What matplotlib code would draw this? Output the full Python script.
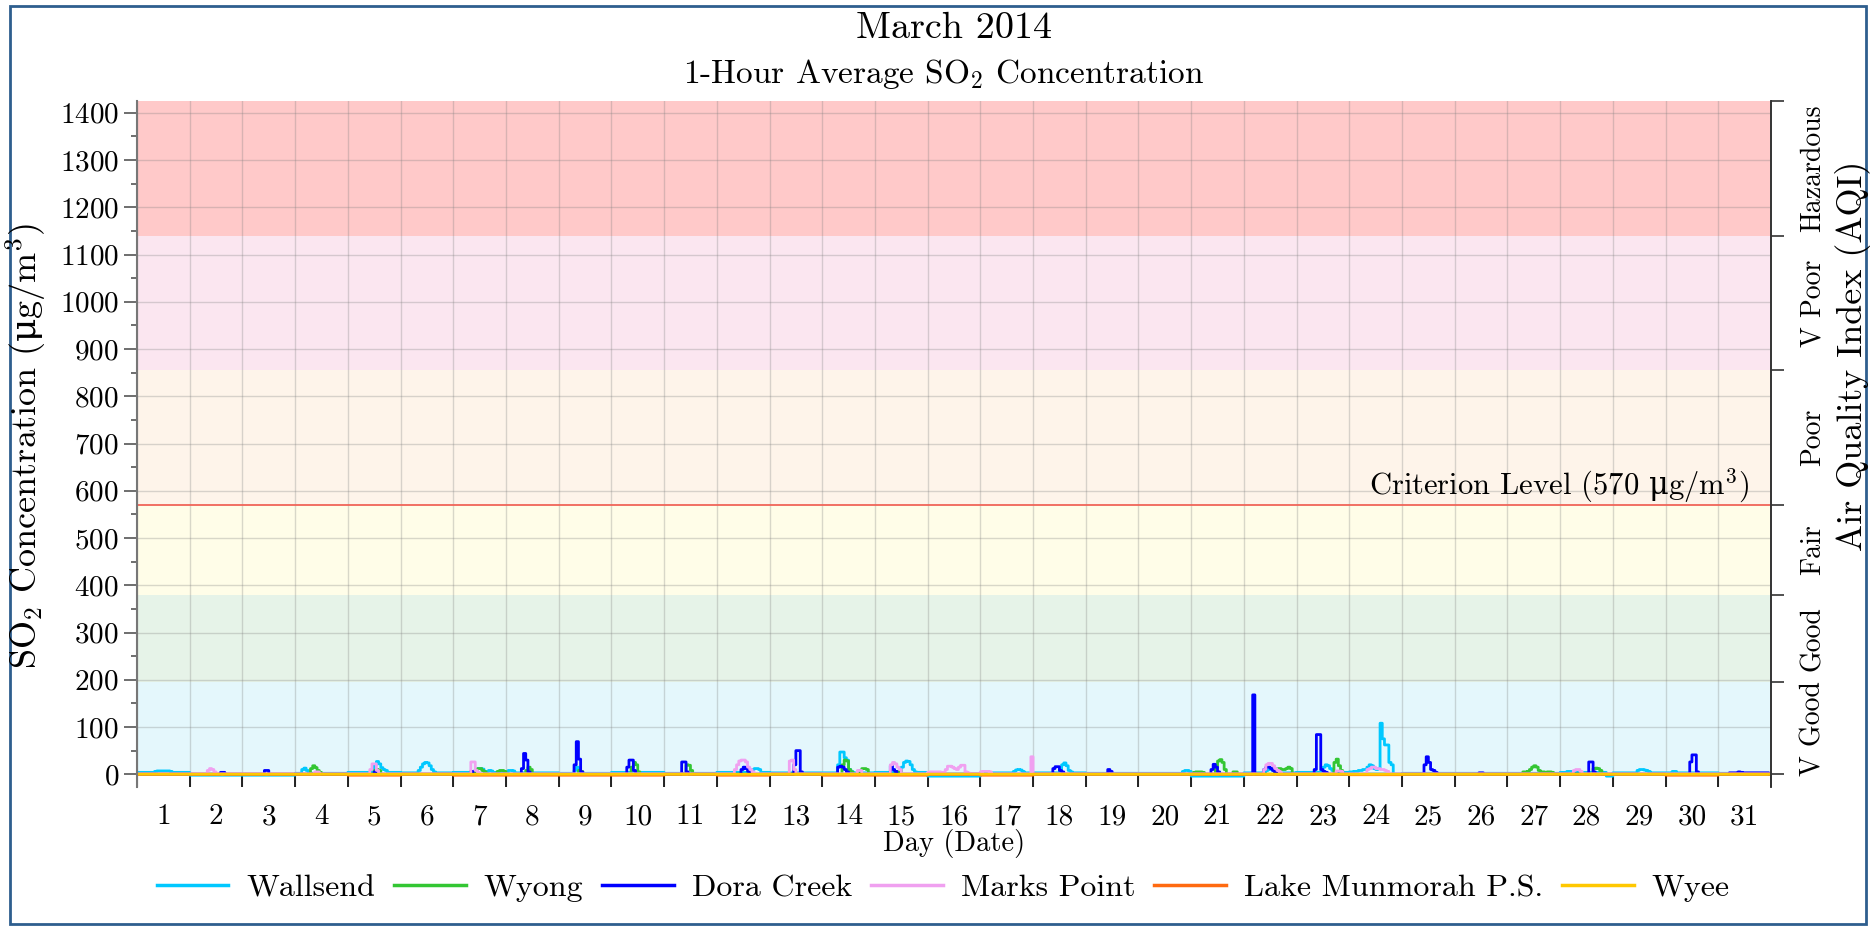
import numpy as np
import matplotlib
matplotlib.use("Agg")
from matplotlib import pyplot as plt
from matplotlib.patches import Rectangle
import matplotlib.transforms as mtransforms

plt.rcParams['font.family'] = ['cmr10', 'DejaVu Serif']
plt.rcParams['mathtext.fontset'] = 'custom'
plt.rcParams['mathtext.rm'] = 'cmr10'
plt.rcParams['mathtext.it'] = 'cmmi10'
plt.rcParams['mathtext.bf'] = 'cmb10'
plt.rcParams['mathtext.sf'] = 'DejaVu Serif'
plt.rcParams['axes.formatter.use_mathtext'] = True

MU = r'$\mathsf{\mu}$'

## data: per-day baseline (1..31) and spikes as (day, start hour, hourly values) ##
n_days = 31
day_labels = [str(d) for d in range(1, n_days + 1)]

wallsend_base = [4, -2, -2, 2, 4, 3, 4, 3, 2, 4, 2, 4, 3, 3, 4, -4, 3, 3, 2, 2, -4, 3, 4, 6, 2, 2, 2, 4, 3, 3, 2]
wallsend_spikes = [
    (1, 8, [6, 7, 7, 7, 7, 7, 7, 6]),
    (4, 3, [10, 13, 8]),
    (5, 11, [10, 20, 27, 22, 14, 10, 8]),
    (6, 8, [8, 15, 22, 25, 24, 18, 10, 5]),
    (7, 10, [10, 12, 12, 11, 6, 5, 8, 7, 4]),
    (8, 1, [8, 8, 7]),
    (9, 7, [8, 15, 10]),
    (12, 15, [8, 10, 12, 12, 10]),
    (14, 7, [20, 47, 47, 35, 30, 10, 6]),
    (15, 12, [15, 25, 28, 27, 20, 10, 5]),
    (17, 15, [6, 9, 10, 9, 6]),
    (18, 12, [10, 20, 24, 18, 8, 5]),
    (20, 20, [6, 8, 8, 6]),
    (22, 9, [5, 8, 10, 10, 8, 6]),
    (23, 11, [8, 15, 20, 18, 12, 8]),
    (24, 0, [5, 5, 6, 6, 8, 8, 10, 10, 15, 20, 18, 12, 10, 12, 108, 75, 62, 62, 25, 20, 0, 0, 0, 0]),
    (28, 3, [6, 6, 6]),
    (28, 21, [-4, -4, -4]),
    (29, 11, [8, 10, 10, 9, 8, 6]),
    (30, 3, [6, 6]),
]

wyong_base = [0] * n_days
wyong_spikes = [
    (4, 7, [12, 18, 14, 8, 4]),
    (5, 12, [8, 10, 8]),
    (7, 10, [10, 12, 12, 8, 5]),
    (7, 20, [6, 8, 8, 6]),
    (8, 9, [8, 15, 10]),
    (9, 9, [8, 6]),
    (10, 9, [15, 25, 20, 5]),
    (11, 10, [20, 19, 8]),
    (14, 9, [20, 30, 28, 10, 5]),
    (14, 17, [8, 12, 12, 10]),
    (15, 10, [6, 8]),
    (21, 1, [4, 5, 5, 5, 4]),
    (21, 11, [15, 28, 31, 25, 10]),
    (21, 19, [5, 5]),
    (22, 14, [10, 12, 12, 10, 10, 12, 15, 12]),
    (23, 17, [25, 32, 18, 8]),
    (27, 7, [5, 5, 6, 10, 15, 18, 15, 8, 5, 5, 3, 5, 5, 4]),
    (28, 15, [12, 13, 12, 8]),
]

dora_base = [0] * n_days
dora_spikes = [
    (2, 14, [4, 4]),
    (3, 10, [8, 8]),
    (5, 12, [5]),
    (7, 8, [6]),
    (8, 7, [12, 44, 30, 5]),
    (9, 7, [20, 69, 32, 5]),
    (10, 7, [15, 30, 30, 8]),
    (11, 8, [26, 26, 5]),
    (12, 11, [10, 15, 12, 6]),
    (13, 11, [20, 50, 50, 5]),
    (14, 7, [15, 17, 15, 10, 5]),
    (15, 7, [18, 10, 6]),
    (18, 9, [12, 16, 16, 8, 5]),
    (19, 10, [10, 6]),
    (21, 9, [10, 21, 15, 5]),
    (22, 4, [168]),
    (22, 9, [10, 15, 15, 12, 8, 5]),
    (23, 8, [10, 84, 84, 10, 6, 4]),
    (25, 10, [20, 37, 25, 10, 8, 4]),
    (26, 11, [3, 3]),
    (28, 13, [26, 26, 5]),
    (30, 11, [26, 41, 41, 5]),
    (31, 5, [3, 3, 3, 3, 5, 4, 3, 3, 3, 3, 3, 3, 3, 3, 3, 3, 3, 3]),
]

marks_base = [1] * n_days
marks_spikes = [
    (2, 8, [8, 12, 10, 5]),
    (4, 9, [5, 5]),
    (5, 10, [10, 22, 22, 8]),
    (7, 8, [26, 26, 8, 4]),
    (12, 8, [10, 20, 28, 30, 30, 26, 15, 10, 5]),
    (13, 9, [28, 30, 10]),
    (14, 16, [8, 8]),
    (15, 7, [20, 25, 22, 15, 10]),
    (16, 0, [4, 5, 5, 5, 5, 5, 4, 4, 10, 17, 17, 15, 12, 10, 15, 19, 19, 5, 3]),
    (17, 0, [5, 6, 6, 6, 5]),
    (17, 23, [37]),
    (22, 9, [10, 20, 23, 23, 18, 12, 8, 5]),
    (23, 18, [7, 7, 6]),
    (24, 8, [10, 12, 15, 15, 12, 12, 10, 10, 8, 6]),
    (28, 6, [8, 10, 10, 6]),
]

munmorah_base = [0, 0, 0, 0, -2, 0, -2, -2, -2, -2, 0, -2, 0, -2, -2, 0, -2, 0, 0, 0, 0, 0, 0, -1, 0, 0, 0, 0, 0, -2, 0]
munmorah_spikes = []

wyee_base = [0] * n_days
wyee_spikes = []

stations = ['Wallsend', 'Wyong', 'Dora Creek', 'Marks Point', 'Lake Munmorah P.S.', 'Wyee']
station_colors = ['#00C8FF', '#33C633', '#0000FF', '#F0A0F0', '#FF6A10', '#FFC800']

band_edges = [0, 195, 380, 570, 855, 1140, 1425]
band_names = ['V Good', 'Good', 'Fair', 'Poor', 'V Poor', 'Hazardous']
band_colors = ['#E4F7FC', '#E6F3E8', '#FFFDE8', '#FEF4EA', '#FBE6F0', '#FFC9C9']
criterion = 570


def build(base, spikes):
    y = np.repeat(np.array(base, dtype=float), 24)
    for day, hour, vals in spikes:
        i = (day - 1) * 24 + hour
        y[i:i + len(vals)] = vals
    return y


series = [build(wallsend_base, wallsend_spikes), build(wyong_base, wyong_spikes),
          build(dora_base, dora_spikes), build(marks_base, marks_spikes),
          build(munmorah_base, munmorah_spikes), build(wyee_base, wyee_spikes)]
x = np.arange(n_days * 24) / 24.0

fig = plt.figure(figsize=(18.72, 9.30), dpi=100)
W, H = 1872, 930
ax = fig.add_axes([137 / W, 1 - 787 / H, (1771 - 137) / W, (787 - 101) / H])

for lo, hi, c in zip(band_edges[:-1], band_edges[1:], band_colors):
    ax.axhspan(lo, hi, color=c, lw=0, zorder=0)

for y, name, c in zip(series, stations, station_colors):
    ax.plot(np.append(x, n_days), np.append(y, y[-1]), drawstyle='steps-post',
            color=c, lw=2.0, label=name, zorder=2)

ax.axhline(criterion, color='#F06458', lw=1.3, zorder=1.8)
tr = mtransforms.blended_transform_factory(fig.transFigure, ax.transData)
ax.text(1749 / W, criterion, 'Criterion Level (570 ' + MU + 'g/m$^3$)', fontsize=22,
        ha='right', va='bottom', transform=tr)

ax.set_xlim(0, n_days)
ax.set_ylim(-27, 1425)
ax.set_xticks(np.arange(0, n_days + 1))
ax.set_xticklabels([])
ax.set_xticks(np.arange(n_days) + 0.5, minor=True)
ax.set_xticklabels(day_labels, minor=True)
ax.tick_params(axis='x', which='major', direction='in', length=9.5, width=1.2, color='black')
ax.tick_params(axis='x', which='minor', length=0, labelsize=21, pad=12)
ax.set_yticks(np.arange(0, 1401, 100))
ax.set_yticks(np.arange(50, 1401, 100), minor=True)
ax.tick_params(axis='y', which='major', direction='out', length=9.5, width=1.2, color='#555555', labelsize=21)
ax.tick_params(axis='y', which='minor', direction='out', length=4.5, width=1.2, color='#555555')
ax.grid(True, which='major', color='#808080', alpha=0.3, lw=1)

for s in ['top', 'bottom']:
    ax.spines[s].set_visible(False)
ax.spines['left'].set_color('#777777')
ax.spines['left'].set_linewidth(1.5)
ax.spines['right'].set_color('#333333')
ax.spines['right'].set_linewidth(1.2)

ax2 = ax.twinx()
ax2.set_ylim(ax.get_ylim())
ax2.set_yticks(band_edges)
ax2.set_yticklabels([])
ax2.tick_params(axis='y', direction='out', length=9.5, width=1.2, color='#333333')
for s in ['top', 'bottom', 'left']:
    ax2.spines[s].set_visible(False)
ax2.spines['right'].set_color('#333333')
ax2.spines['right'].set_linewidth(1.2)
for lo, hi, name in zip(band_edges[:-1], band_edges[1:], band_names):
    ax.text(1813 / W, (lo + hi) / 2, name, fontsize=20, rotation=90,
            ha='center', va='center', transform=tr)

fig.text(1853 / W, 1 - 356 / H, 'Air Quality Index (AQI)', fontsize=26, rotation=90,
         ha='center', va='center')
fig.text(26 / W, 1 - 446 / H, 'SO$_2$ Concentration (' + MU + 'g/m$^3$)', fontsize=26,
         rotation=90, ha='center', va='center')
fig.text(954 / W, 1 - 844 / H, 'Day (Date)', fontsize=20.5, ha='center', va='center')
fig.text(954 / W, 1 - 28 / H, 'March 2014', fontsize=27.5, ha='center', va='center')
fig.text(944 / W, 1 - 74 / H, '1-Hour Average SO$_2$ Concentration', fontsize=24,
         ha='center', va='center')

leg = ax.legend(loc='center', bbox_to_anchor=(943 / W, 1 - 888 / H),
                bbox_transform=fig.transFigure, ncol=6, frameon=False, fontsize=23,
                handlelength=2.25, handletextpad=0.55, columnspacing=0.6)
for line in leg.get_lines():
    line.set_linewidth(2.5)

fig.patches.append(Rectangle((10 / W, 6 / H), 1856 / W, 918 / H, transform=fig.transFigure,
                             fill=False, edgecolor='#2E5E8E', lw=2))

fig.savefig('out.png', dpi=100)
